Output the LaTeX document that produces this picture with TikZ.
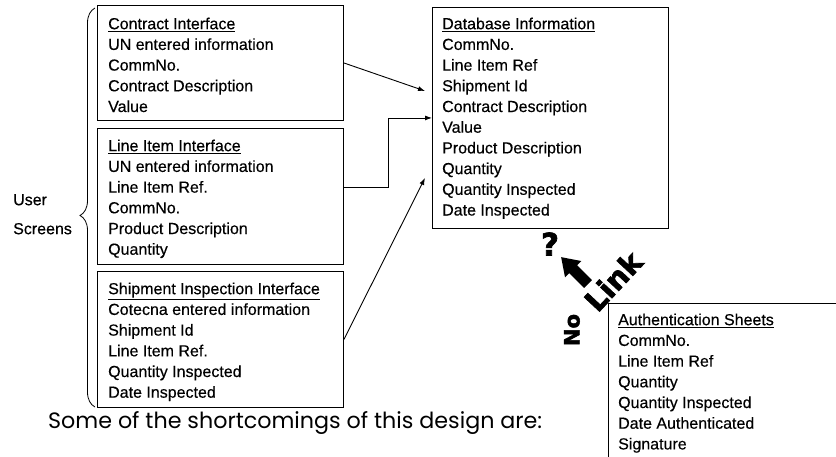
\documentclass[tikz,border=0pt]{standalone}
\usepackage{fontspec}
\usepackage{graphicx}
\setmainfont{Liberation Sans}[FakeBold=0.35]
\newfontfamily\heavyfont{DejaVu Sans}[FakeBold=2.2, BoldFeatures={FakeBold=2.2}]
\newfontfamily\gothicfont{Poppins}
\usetikzlibrary{arrows.meta,calc,decorations.pathreplacing}
\begin{document}
\begin{tikzpicture}[x=1pt,y=-1pt,
  box/.style={draw, line width=0.9pt, anchor=north west, inner sep=0pt},
  txt/.style={anchor=north west, inner sep=0pt, align=left, font=\fontsize{16}{20.7}\selectfont},
  conn/.style={line width=0.9pt, -{Latex[length=7pt,width=5pt]}},
  bold/.style={inner sep=0pt, font=\heavyfont\bfseries\fontsize{#1}{#1}\selectfont}]
\clip (0,0) rectangle (836,456);
\fill[white] (0,0) rectangle (836,456);
% boxes
\node[box, minimum width=246pt, minimum height=115pt] (ci) at (97,5) {};
\node[box, minimum width=246pt, minimum height=136pt] (li) at (97,128) {};
\node[box, minimum width=246pt, minimum height=136pt] (sh) at (97,271) {};
\node[box, minimum width=236pt, minimum height=221pt] (db) at (432,7) {};
\node[box, minimum width=250pt, minimum height=180pt] (au) at (608,303) {};
% texts
\node[txt] (cit) at (108,17) {\rule{0pt}{12pt}\underline{Contract Interface}\\UN entered information\\CommNo.\\Contract Description\\Value};
\node[txt] (lit) at (108,139) {\rule{0pt}{12pt}\underline{Line Item Interface}\\UN entered information\\Line Item Ref.\\CommNo.\\Product Description\\Quantity};
\node[txt] (sht) at (108,282) {\rule{0pt}{12pt}\underline{Shipment Inspection Interface}\\Cotecna entered information\\Shipment Id\\Line Item Ref.\\Quantity Inspected\\Date Inspected};
\node[txt] (dbt) at (442,17) {\rule{0pt}{12pt}\underline{Database Information}\\CommNo.\\Line Item Ref\\Shipment Id\\Contract Description\\Value\\Product Description\\Quantity\\Quantity Inspected\\Date Inspected};
\node[txt] (aut) at (618,313) {\rule{0pt}{12pt}\underline{Authentication Sheets}\\CommNo.\\Line Item Ref\\Quantity\\Quantity Inspected\\Date Authenticated\\Signature};
\node[txt, font=\fontsize{16}{29}\selectfont] (us) at (13,193) {\rule{0pt}{12pt}User\\Screens};
% brace
\coordinate (bb) at (95,407);
\coordinate (bt) at (95,8);
\draw[decorate, decoration={brace, amplitude=15pt, aspect=0.48}, line width=0.8pt] (bb) -- (bt);
% connectors
\coordinate (a1) at ($(db.west)+(-7,-27)$);
\coordinate (a3) at ($(db.west)+(-7,60)$);
\draw[conn] (ci.east) -- (a1);
\draw[conn] ($(li.east)+(0,-9)$) -- ++(45,0) |- (db.west);
\draw[conn] (sh.east) -- (a3);
% no link
\fill[shift={(588,284)}, rotate=135] (0,-5.5) -- (21,-5.5) -- (21,-11.5) -- (38,0) -- (21,11.5) -- (21,5.5) -- (0,5.5) -- cycle;
\node[bold=31] (q) at (550,244) {?};
\node[bold=21, rotate=90] (no) at (572,330) {No};
\node[bold=29, rotate=47] (lk) at (613,281) {Link};
% caption
\node[anchor=base west, inner sep=0pt, font=\gothicfont] (cap) at (48,428) {\resizebox{494pt}{!}{Some of the shortcomings of this design are:}};
\end{tikzpicture}
\end{document}
